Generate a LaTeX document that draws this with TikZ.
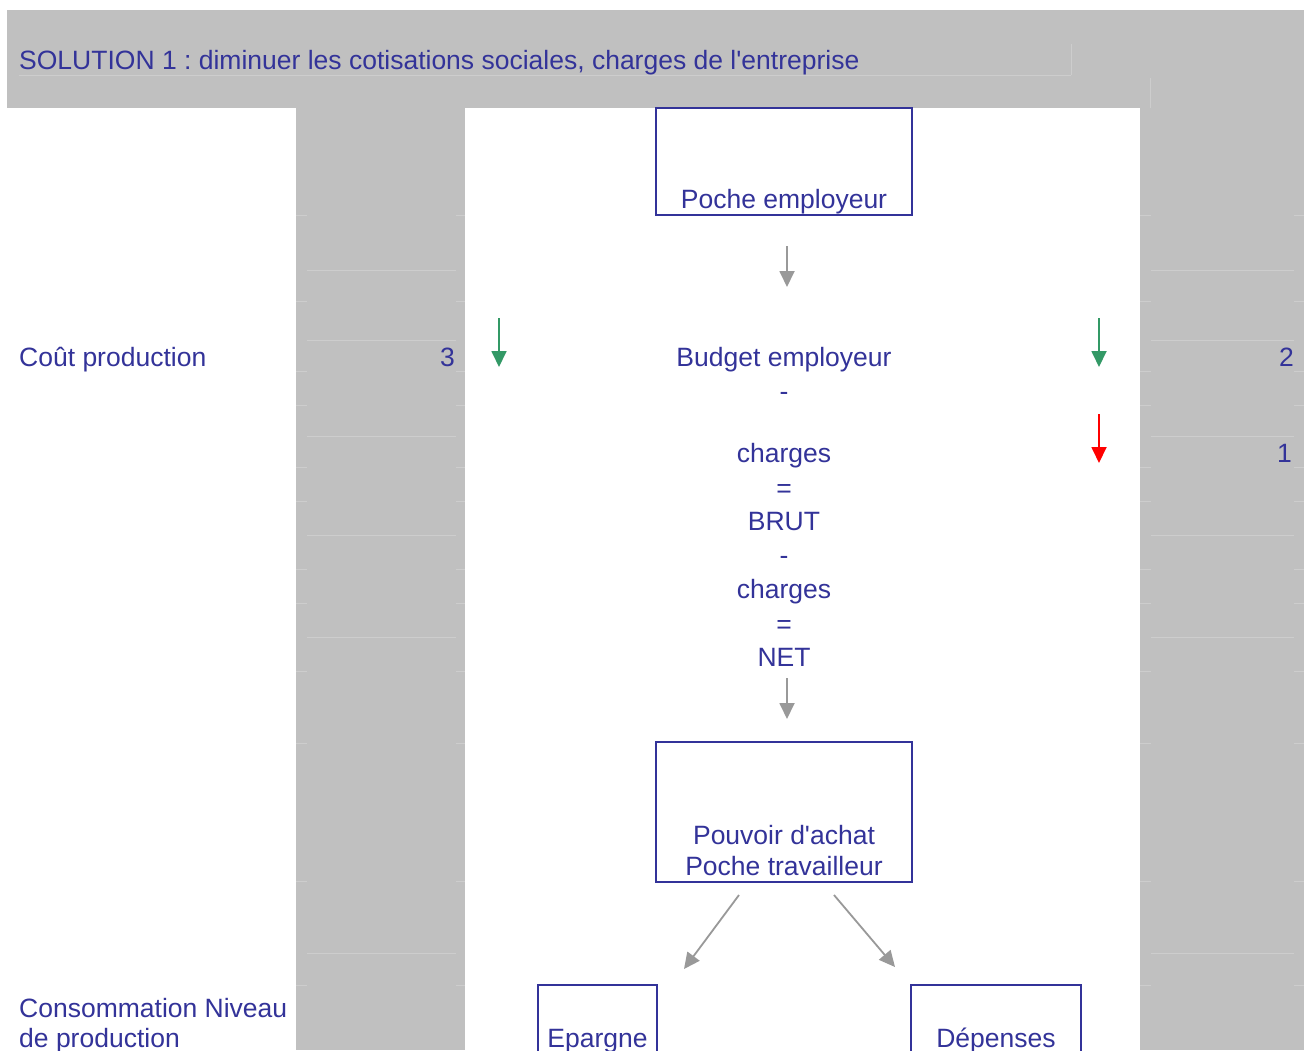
\documentclass[tikz,border=0pt]{standalone}
\usepackage{fontspec}
\setmainfont[Ligatures=NoCommon]{Liberation Sans}
\usetikzlibrary{arrows.meta}
\definecolor{txtblue}{HTML}{333399}
\definecolor{cellgrey}{HTML}{C0C0C0}
\definecolor{faint}{HTML}{CDCDCD}
\definecolor{arrgrey}{HTML}{999999}
\definecolor{arrgreen}{HTML}{339966}
\definecolor{arrred}{HTML}{FF0000}
\frenchspacing
\begin{document}
\begin{tikzpicture}[x=1pt,y=-1pt,
  lbl/.style={text=txtblue,font=\fontsize{26.5}{30}\selectfont,inner sep=0pt,anchor=base},
  lblw/.style={lbl,anchor=base west},
  lble/.style={lbl,anchor=base east},
  boxn/.style={draw=txtblue,line width=2pt,inner sep=0pt},
  greyarr/.style={draw=arrgrey,line width=1.8pt,-{Triangle[width=15pt,length=16pt]}},
  greenarr/.style={draw=arrgreen,line width=1.8pt,-{Triangle[width=15pt,length=16pt]}},
  redarr/.style={draw=arrred,line width=1.8pt,-{Triangle[width=15pt,length=16pt]}},
  faintline/.style={draw=faint,line width=1pt}]
\useasboundingbox (0,0) rectangle (1304,1050);
\fill[white] (0,0) rectangle (1304,1050);
% grey areas
\fill[cellgrey] (7,10) rectangle (1304,108);
\fill[cellgrey] (296,108) rectangle (465,1050);
\fill[cellgrey] (1140,108) rectangle (1304,1050);
% faint cell lines
\draw[faintline] (19,75) -- (1071,75);
\draw[faintline] (1071,44) -- (1071,75);
\draw[faintline] (1150,78) -- (1150,108);
\foreach \yy in {270,340,436,535,637,953} {
  \draw[faintline] (307,\yy) -- (456,\yy);
  \draw[faintline] (1151,\yy) -- (1294,\yy);
}
\foreach \yy in {215,301,371,405,467,501,569,603,671,743,881,985} {
  \draw[faintline] (296,\yy) -- (307,\yy);
  \draw[faintline] (456,\yy) -- (465,\yy);
  \draw[faintline] (1140,\yy) -- (1151,\yy);
  \draw[faintline] (1294,\yy) -- (1304,\yy);
}
% header
\node[lblw] (title) at (19,69) {SOLUTION 1 : diminuer les cotisations sociales, charges de l\textquotesingle entreprise};
% boxes
\node[boxn,minimum width=256pt,minimum height=107pt] (pe) at (784,161.5) {};
\node[lbl] (pet) at (784,208) {Poche employeur};
\node[boxn,minimum width=256pt,minimum height=140pt] (pa) at (784,812) {};
\node[lbl] (pat1) at (784,844) {Pouvoir d\textquotesingle achat};
\node[lbl] (pat2) at (784,875) {Poche travailleur};
\node[boxn,minimum width=119pt,minimum height=100pt] (ep) at (597.5,1035) {};
\node[lbl] (ept) at (597.5,1047) {Epargne};
\node[boxn,minimum width=170pt,minimum height=100pt] (de) at (996,1035) {};
\node[lbl] (det) at (996,1047) {Dépenses};
% column texts
\node[lblw] (cout) at (19,366) {Coût production};
\node[lble] (n3) at (455,366) {3};
\node[lble] (n2) at (1294,366) {2};
\node[lble] (n1) at (1292,462) {1};
\node[lblw] (conso1) at (19,1017) {Consommation Niveau};
\node[lblw] (conso2) at (19,1047) {de production};
% central chain
\node[lbl] (be) at (784,366) {Budget employeur};
\node[lbl] (m1) at (784,400) {-};
\node[lbl] (ch1) at (784,462) {charges};
\node[lbl] (eq1) at (784,497) {=};
\node[lbl] (brut) at (784,530) {BRUT};
\node[lbl] (m2) at (784,564) {-};
\node[lbl] (ch2) at (784,598) {charges};
\node[lbl] (eq2) at (784,633) {=};
\node[lbl] (net) at (784,666) {NET};
% arrows
\coordinate (a1s) at (787,246); \coordinate (a1e) at (787,287);
\draw[greyarr] (a1s) -- (a1e);
\coordinate (a2s) at (787,678); \coordinate (a2e) at (787,719);
\draw[greyarr] (a2s) -- (a2e);
\coordinate (a3s) at (739,895); \coordinate (a3e) at (684,969);
\draw[greyarr] (a3s) -- (a3e);
\coordinate (a4s) at (834,895); \coordinate (a4e) at (895,967);
\draw[greyarr] (a4s) -- (a4e);
\coordinate (g1s) at (499,318); \coordinate (g1e) at (499,367);
\draw[greenarr] (g1s) -- (g1e);
\coordinate (g2s) at (1099,318); \coordinate (g2e) at (1099,367);
\draw[greenarr] (g2s) -- (g2e);
\coordinate (r1s) at (1099,414); \coordinate (r1e) at (1099,463);
\draw[redarr] (r1s) -- (r1e);
\end{tikzpicture}
\end{document}
